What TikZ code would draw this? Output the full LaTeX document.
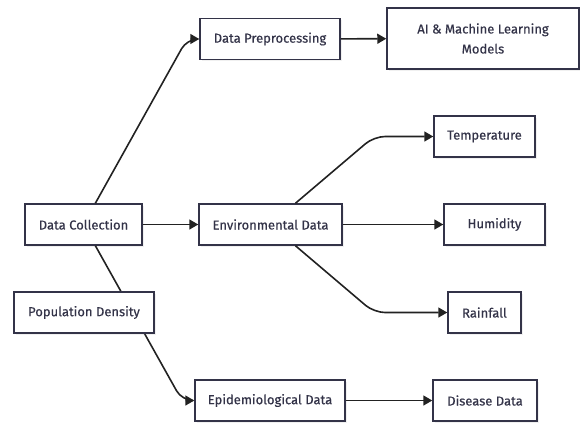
\documentclass[tikz,border=0pt]{standalone}
\usepackage{fontspec}
\setmainfont{Fira Sans}[FakeBold=0.4]
\usetikzlibrary{arrows.meta, shadows}
\definecolor{edge}{RGB}{51, 51, 72}
\definecolor{ink}{RGB}{34, 34, 34}
\tikzset{
  box/.style={draw=edge, line width=1.5pt, fill=white, text=edge,
    minimum height=41pt, inner sep=2pt, font=\fontsize{13}{20}\selectfont,
    drop shadow={shadow xshift=1.5pt, shadow yshift=-1.5pt, opacity=0.12}},
  link/.style={draw=ink, line width=1.6pt, rounded corners=11pt,
    -{Triangle[length=9pt, width=10pt]}}
}

\begin{document}
\begin{tikzpicture}[x=1pt, y=-1pt]

  \useasboundingbox (0, 0) rectangle (580, 424);

  % corners of the bent links
  \coordinate (b1) at (187, 39);
  \coordinate (b2) at (182, 400.5);
  \coordinate (b3) at (374, 136.5);
  \coordinate (b4) at (374, 312.5);

  \node[box, minimum width=117pt] (dc)   at (83.5, 224.5) {Data Collection};
  \node[box, minimum width=140pt] (dp)   at (270, 39) {Data Preprocessing};
  \node[box, minimum width=192pt, minimum height=61pt, align=center]
                                  (ai)   at (483, 38.5) {AI \& Machine Learning\\Models};
  \node[box, minimum width=143pt] (ed)   at (270.5, 224.5) {Environmental Data};
  \node[box, minimum width=101pt] (temp) at (484.5, 136.5) {Temperature};
  \node[box, minimum width=101pt] (hum)  at (494.5, 224.5) {Humidity};
  \node[box, minimum width=73pt]  (rain) at (484.5, 312.5) {Rainfall};
  \node[box, minimum width=150pt] (epi)  at (270, 400.5) {Epidemiological Data};
  \node[box, minimum width=104pt] (dis)  at (485, 400.5) {Disease Data};

  \draw[link] (dc) -- (b1) -- (dp.west);
  \draw[link] (dc) -- (ed);
  \draw[link] (dc) -- (b2) -- (epi.west);
  \draw[link] (dp) -- (ai);
  \draw[link] (ed) -- (b3) -- (temp.west);
  \draw[link] (ed) -- (hum);
  \draw[link] (ed) -- (b4) -- (rain.west);
  \draw[link] (epi) -- (dis);

  % drawn last, it lies over the link to epi
  \node[box, minimum width=140pt] (pd) at (84, 312.5) {Population Density};

\end{tikzpicture}
\end{document}
